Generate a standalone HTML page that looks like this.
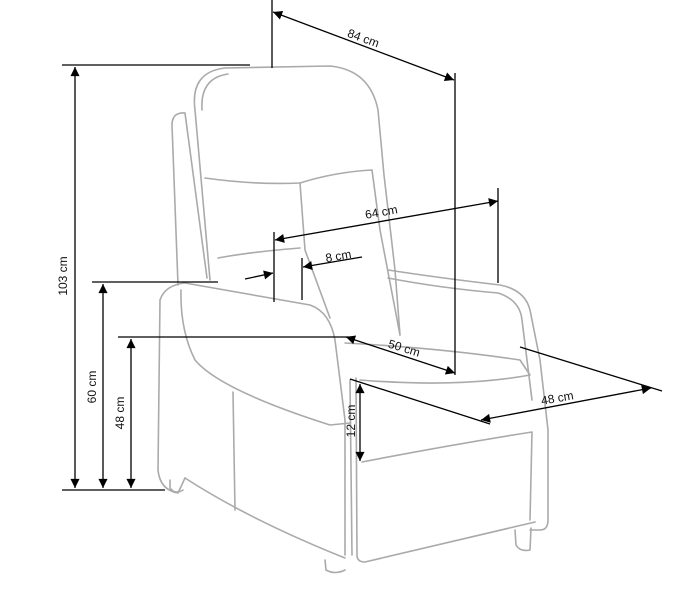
<!DOCTYPE html>
<html><head><meta charset="utf-8"><style>
html,body{margin:0;padding:0;background:#fff;width:682px;height:589px;overflow:hidden}
text{font-family:"Liberation Sans",sans-serif;font-size:12px;fill:#111}
</style></head><body>
<svg width="682" height="589" viewBox="0 0 682 589" xmlns="http://www.w3.org/2000/svg">
<defs>
<marker id="a" viewBox="0 0 10 10" refX="10" refY="5" markerWidth="10" markerHeight="7" orient="auto-start-reverse"><path d="M0,0L10,5L0,10z" fill="#000"/></marker>
</defs>
<g fill="none" stroke="#aaa" stroke-width="1.6" stroke-linejoin="round" stroke-linecap="round">
<path d="M210,280 L195,110 Q190,72 225,68 L330,66 Q370,70 378,110 L384,175 L395,270 L400,335"/>
<path d="M202,110 Q200,78 228,74"/>
<path d="M205,178 Q255,185 300,183 Q335,172 372,170"/>
<path d="M300,183 L305,250 L330,318"/>
<path d="M372,170 L380,230 L400,335"/>
<path d="M218,258 Q250,252 300,248"/>
<path d="M178,285 L172,125 Q172,112 185,113"/>
<path d="M185,113 L207,278"/>
<path d="M388,270 Q440,278 500,285 Q525,290 530,310 L540,360 L548,430 L548,520 Q548,530 540,530 L530,530"/>
<path d="M388,278 Q440,288 498,293 Q520,300 522,320 L532,400"/>
<path d="M160,300 Q165,285 185,283 L310,305 Q330,312 335,340 L345,420 L345,555"/>
<path d="M181,290 Q180,330 195,360 Q220,390 330,425 L350,423"/>
<path d="M160,300 L158,470 Q160,490 178,493 L185,478"/>
<path d="M233,392 L235,510"/>
<path d="M185,478 Q250,520 345,558"/>
<path d="M345,343 Q440,348 520,360 L530,375 Q460,388 360,380"/>
<path d="M356,378 L357,555 Q357,562 365,562 L535,522"/>
<path d="M362,462 Q450,445 532,432 L530,520"/>
<path d="M350,380 L352,555"/>
<path d="M515,530 L516,545 Q520,552 530,550 L531,528"/>
<path d="M325,560 L326,570 Q335,575 345,570"/>
<path d="M170,480 L170,488 Q175,495 183,490"/>
</g>
<g stroke="#000" stroke-width="1.3" fill="none">
<line x1="62" y1="65" x2="250" y2="65"/>
<line x1="62" y1="490" x2="165" y2="490"/>
<line x1="75" y1="67" x2="75" y2="488" marker-start="url(#a)" marker-end="url(#a)"/>
<line x1="92" y1="282" x2="218" y2="282"/>
<line x1="103" y1="284" x2="103" y2="488" marker-start="url(#a)" marker-end="url(#a)"/>
<line x1="118" y1="337" x2="355" y2="337"/>
<line x1="131" y1="339" x2="131" y2="488" marker-start="url(#a)" marker-end="url(#a)"/>
<line x1="272" y1="0" x2="272" y2="68"/>
<line x1="455" y1="73" x2="455" y2="375"/>
<line x1="273" y1="12" x2="454" y2="80" marker-start="url(#a)" marker-end="url(#a)"/>
<line x1="498" y1="188" x2="498" y2="283"/>
<line x1="274" y1="232" x2="274" y2="302"/>
<line x1="275" y1="240" x2="498" y2="201" marker-start="url(#a)" marker-end="url(#a)"/>
<line x1="302" y1="258" x2="302" y2="300"/>
<line x1="245" y1="279" x2="273" y2="273" marker-end="url(#a)"/>
<line x1="303" y1="267" x2="362" y2="257" marker-start="url(#a)"/>
<line x1="346" y1="337" x2="455" y2="373" marker-start="url(#a)" marker-end="url(#a)"/>
<line x1="350" y1="379" x2="490" y2="424"/>
<line x1="520" y1="347" x2="662" y2="391"/>
<line x1="481" y1="420" x2="651" y2="388" marker-start="url(#a)" marker-end="url(#a)"/>
<line x1="360" y1="384" x2="360" y2="461" marker-start="url(#a)" marker-end="url(#a)"/>
</g>
<text transform="translate(67,276) rotate(-90)" text-anchor="middle">103 cm</text>
<text transform="translate(96,387) rotate(-90)" text-anchor="middle">60 cm</text>
<text transform="translate(124,413) rotate(-90)" text-anchor="middle">48 cm</text>
<text transform="translate(355,421) rotate(-90)" text-anchor="middle">12 cm</text>
<text transform="translate(362,42) rotate(20)" text-anchor="middle">84 cm</text>
<text transform="translate(382,216) rotate(-10)" text-anchor="middle">64 cm</text>
<text transform="translate(339,260) rotate(-10)" text-anchor="middle">8 cm</text>
<text transform="translate(403,352) rotate(17)" text-anchor="middle">50 cm</text>
<text transform="translate(558,402) rotate(-10)" text-anchor="middle">48 cm</text>
</svg>
</body></html>
